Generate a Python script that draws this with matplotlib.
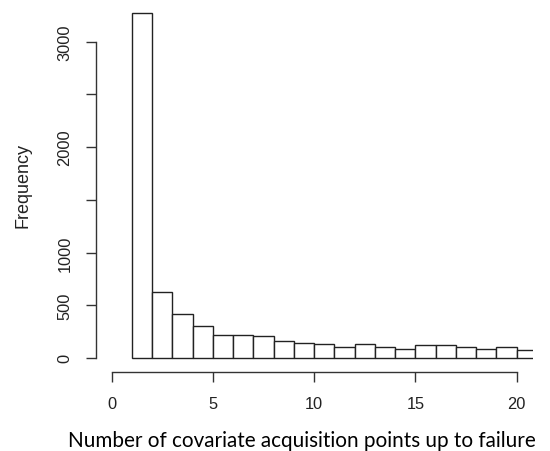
import matplotlib
matplotlib.use("Agg")
import matplotlib.pyplot as plt

bin_starts = [1, 2, 3, 4, 5, 6, 7, 8, 9, 10, 11, 12, 13, 14, 15, 16, 17, 18, 19, 20]
counts = [3275, 624, 415, 298, 215, 215, 206, 161, 142, 133,
          108, 133, 108, 85, 120, 120, 108, 85, 108, 76]
x_ticks = [0, 5, 10, 15, 20]
y_ticks = [0, 500, 1000, 1500, 2000, 2500, 3000]
y_labels = ["0", "500", "1000", "", "2000", "", "3000"]

plt.rcParams['font.family'] = ['Liberation Sans', 'DejaVu Sans']
fig = plt.figure(figsize=(5.5, 4.52), dpi=100)
ax = fig.add_axes([95.5/550, (452-372.7)/452, (532.9-95.5)/550, 372.7/452])

ax.bar(bin_starts, counts, width=1, align='edge', color='white',
       edgecolor='#222222', linewidth=1.0)

ax.set_xlim(-0.8, 20.8)
ax.set_ylim(-131, 3406)
for s in ['top', 'right']:
    ax.spines[s].set_visible(False)
ax.spines['left'].set_bounds(0, 3000)
ax.spines['bottom'].set_bounds(0, 20)
for s in ['left', 'bottom']:
    ax.spines[s].set_color('#333333')
    ax.spines[s].set_linewidth(1.0)

ax.set_xticks(x_ticks)
ax.set_xticklabels([str(t) for t in x_ticks])
ax.set_yticks(y_ticks)
ax.set_yticklabels(y_labels, rotation=90, va='center')
ax.tick_params(axis='both', length=7.2, width=1.0, color='#333333',
               labelsize=11.8, labelcolor='#222222')
ax.tick_params(axis='x', pad=10.5)
ax.tick_params(axis='y', pad=9.5)

ax.set_ylabel("Frequency", fontsize=13, color='#222222')
ax.yaxis.set_label_coords(-(95.5 - 23) / 437.4, (372.7 - 185.5) / 372.7)
ax.yaxis.label.set_va('center')
ax.set_xlabel("Number of covariate acquisition points up to failure",
              fontsize=14.9, family=['Lato', 'DejaVu Sans'], color='black')
ax.xaxis.set_label_coords((301.7 - 95.5) / 437.4, -(441 - 372.7) / 372.7)
ax.xaxis.label.set_va('center')

fig.savefig("out.png", dpi=100)
